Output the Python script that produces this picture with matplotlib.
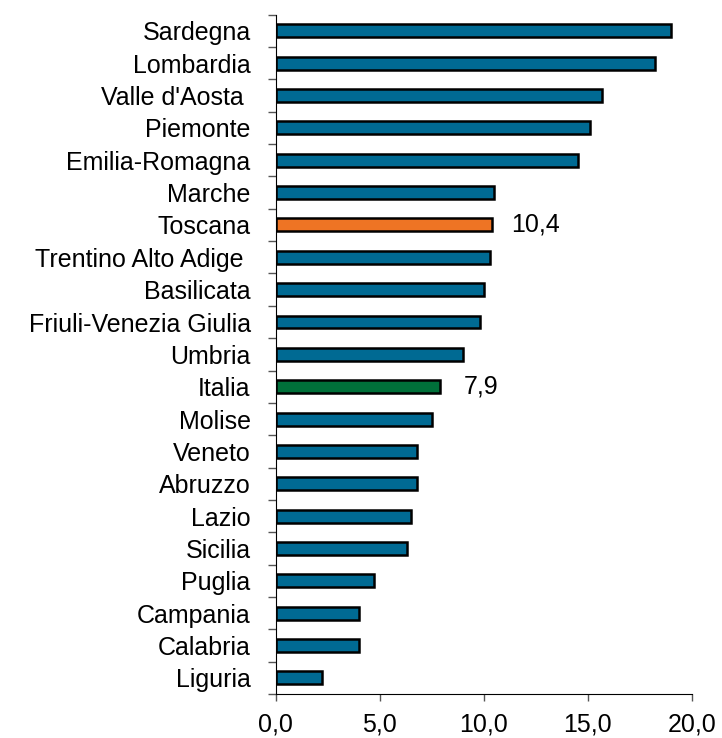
import matplotlib.pyplot as plt
from matplotlib.ticker import FixedLocator, FuncFormatter

plt.rcParams['font.family'] = ['Liberation Sans', 'DejaVu Sans']

# regions, top to bottom
regions = ["Sardegna", "Lombardia", "Valle d'Aosta ", "Piemonte", "Emilia-Romagna",
           "Marche", "Toscana", "Trentino Alto Adige ", "Basilicata",
           "Friuli-Venezia Giulia", "Umbria", "Italia", "Molise", "Veneto",
           "Abruzzo", "Lazio", "Sicilia", "Puglia", "Campania", "Calabria", "Liguria"]
values = [19.0, 18.2, 15.7, 15.1, 14.5, 10.5, 10.4, 10.3, 10.0, 9.8, 9.0, 7.9,
          7.5, 6.8, 6.8, 6.5, 6.3, 4.7, 4.0, 4.0, 2.2]
highlight = {"Toscana": "#EE7424", "Italia": "#00703A"}
label_offset = {"Toscana": 0.9, "Italia": 1.15}
base_color = "#006A93"

colors = [highlight.get(r, base_color) for r in regions]
n = len(regions)
ypos = list(range(n))
fs = 18

fig = plt.figure(figsize=(7.22, 7.38), dpi=100)
ax = fig.add_axes([0.3819, 0.0596, 0.5765, 0.9205])

ax.barh(ypos, values, height=0.4, color=colors, edgecolor='black', linewidth=1.8)

ax.set_xlim(0, 20)
ax.set_ylim(n - 0.5, -0.5)

ax.set_xticks([0, 5, 10, 15, 20])
ax.xaxis.set_major_formatter(FuncFormatter(lambda v, p: f"{v:.1f}".replace('.', ',')))
ax.tick_params(axis='x', direction='out', length=5, width=1, pad=8, labelsize=fs,
               color='#555555')

# category boundary ticks, labels at centres
ax.yaxis.set_major_locator(FixedLocator([i - 0.5 for i in range(n + 1)]))
ax.yaxis.set_major_formatter(FuncFormatter(lambda v, p: ""))
ax.yaxis.set_minor_locator(FixedLocator(ypos))
ax.set_yticklabels(regions, minor=True)
ax.tick_params(axis='y', which='major', direction='out', length=6, width=1, color='#555555')
ax.tick_params(axis='y', which='minor', length=0, pad=18, labelsize=fs)

for s in ['top', 'right']:
    ax.spines[s].set_visible(False)

# value labels for the highlighted bars
for name in highlight:
    i = regions.index(name)
    ax.text(values[i] + label_offset[name], i, f"{values[i]:.1f}".replace('.', ','),
            va='center', ha='left', fontsize=fs)

fig.savefig("out.png", dpi=100)
